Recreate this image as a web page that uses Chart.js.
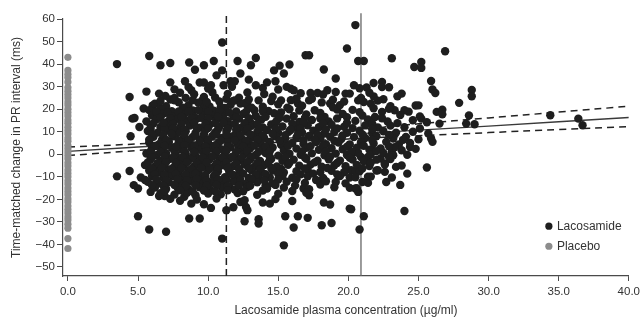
<!DOCTYPE html>
<html>
<head>
<meta charset="utf-8">
<script src="https://cdn.jsdelivr.net/npm/chart.js@4.4.1/dist/chart.umd.min.js"></script>
<style>
  html, body { margin: 0; padding: 0; background: #fff; }
  #wrap { width: 644px; height: 322px; }
</style>
</head>
<body>
<div id="wrap"><canvas id="prChart" width="644" height="322"></canvas></div>
<script>
// tick labels
const xTicks = [0, 5, 10, 15, 20, 25, 30, 35, 40];
const yTicks = [-50, -40, -30, -20, -10, 0, 10, 20, 30, 40, 50, 60];

// placebo: all at 0 ug/ml
const placeboY = [43, 37.2, 35.5, 34, 32, 29.6, 28, 26.5, 25, 23.2, 21.8, 20, 18.5, 17, 15.2, 13.8, 12,
  10.5, 9, 7.2, 5.8, 4, 2.5, 1, -0.5, -2, -3.8, -5.2, -7, -8.5, -10, -11.8, -13.2, -15, -16.5, -18,
  -19.8, -21.2, -23, -24.5, -26, -27.8, -29.2, -31, -32.8, -37.4, -41.8];

// lacosamide: [concentration, change in PR]
const lacosamideOuter = [
  [3.5,40],[5.8,43.6],[6.6,39.5],[7.3,40.5],[8.65,40.7],[9.06,37.5],[9.7,39.5],[10.4,41.4],[11.0,49.6],
  [4.4,25.4],[5.6,27.8],[6.5,26.9],[7.3,31.9],[7.6,28.8],[6.95,25.9],[8.35,32.4],[8.8,28.4],[9.4,31.8],
  [9.7,31.8],[10.2,30.6],[9.7,25.4],[10.6,35],[6.05,21.7],[5.4,20.3],[4.75,16.1],[5.1,12.1],[4.47,8.0],
  [6.7,18.8],[7.6,25.0],[4.6,15.8],
  [3.5,-9.8],[4.4,-7.4],[4.7,-13.7],[5.0,-27.5],[5.8,-33.4],[7.0,-34.4],[8.65,-28.5],[9.4,-28.5],
  [9.7,-22.2],[10.2,-23.8],[11.0,-37.4],[6.5,-18.5],[6.9,-18.5],[5.9,-16.7],[5.0,-15.2],[8.3,-18.9],
  [8.8,-21.9],[9.0,-10.8],
  [16.95,43.9],[17.2,43.9],[19.9,46.9],[12.1,41.4],[13.4,42.7],[13.05,39.5],[15.1,39.3],[15.8,39.8],
  [14.7,37.2],[15.4,35.8],[18.25,37.6],[12.3,35.8],[12.9,33.1],[11.6,32.4],[11.9,32.4],[13.4,30.6],
  [14.2,31.9],[14.8,32.4],[15.0,28.7],[15.9,29.1],[16.1,28.4],[19.1,33.6],[18.5,28.4],[19.1,27.6],
  [17.3,27.2],[17.8,27.2],[19.8,26.9],[13.6,23.9],[14.5,23.6],[15.2,23.9],[12.8,21.7],[13.3,19.5],
  [17.2,23.9],[18.7,22.5],[19.2,19.8],[11.9,23.9],[12.3,22.5],[15.65,20.7],[16.4,22.5],[11.1,30.6],
  [11.0,37.2],
  [15.4,-40.4],[11.3,-24.8],[11.8,-23.5],[12.3,-21.2],[12.7,-23.4],[12.8,-24.8],[12.6,-29.7],
  [13.6,-28.8],[13.6,-30.7],[13.9,-21.4],[14.4,-21.9],[16.0,-20.7],[15.5,-27.5],[16.4,-27.5],
  [17.1,-28.2],[16.1,-32.5],[18.1,-31.5],[18.8,-30.5],[18.25,-21.4],[18.7,-22.3],[17.2,-18.2],
  [16.8,-15.2],[20.1,-24.1],[11.5,-14.5],[14.1,-13.7],[18.0,-13.4],[19.1,-12.3],
  [20.5,57.3],[21.1,41.4],[20.7,41.4],[23.1,42.6],[26.9,45.7],[24.7,38.7],[25.2,40.9],[25.2,38.3],
  [25.9,32.5],[26.0,28.7],[26.2,27.2],[27.9,22.8],[28.8,28.5],[28.8,25.7],[20.4,30.6],[21.8,31.6],
  [22.4,32.1],[22.4,29.8],[21.3,29.6],[20.1,26.9],[21.8,25.7],[22.5,24.4],[23.5,25.7],[23.8,26.9],
  [24.8,21.6],[26.3,18.8],[26.7,19.8],[24.0,19.5],[20.7,23.9],[21.1,23.2],[28.6,17.2],[28.4,13.6],
  [29.0,13.3],[26.5,13.6],[25.7,9.2],[25.9,7.0],[23.3,19.5],[22.4,18.8],[26.7,17.7],[34.4,17.3],
  [36.4,15.8],[36.7,12.9],[26.0,5.5],[25.6,-5.9],[25.2,15.8],[25.0,21.7],
  [24.0,-25.2],[24.2,-8.6],[23.7,-13.6],[23.4,-5.6],[22.7,-12.3],[23.1,-10.3],[22.1,-7.1],[22.3,-1.9],
  [22.6,-4.1],[22.6,-7.8],[21.4,-10.0],[21.4,-12.7],[20.2,-24.4],[21.1,-27.5],[20.8,-33.4],[20.2,-7.1],
  [20.5,-7.5],[20.1,-14.9],[20.5,-15.2],[20.7,-16.7],[20.4,1.0],[20.9,-1.2],[21.4,-1.2],[21.7,1.8],
  [23.1,1.0],[23.2,-0.4],[23.8,1.8],[24.4,3.2],[20.1,-10.3]
];

const lacosamideCore = [
  [7.3,24.3],[8.4,25.0],[9.6,24.1],[10.5,25.2],[11.3,24.6],[12.2,25.1],[16.3,24.8],[18.9,24.2],[20.9,25.0],
  [8.0,27.3],[9.0,26.6],[10.3,27.5],[11.4,26.8],[12.8,27.4],[14.0,26.7],[16.6,27.1],[18.2,26.5],[21.5,27.3],
  [8.6,29.8],[10.0,29.2],[11.7,29.9],[13.9,29.4],[15.6,29.9],[20.8,29.3],[22.9,29.7],
  [6.2,22.4],[7.0,21.3],[7.9,23.1],[8.6,21.8],[9.3,22.9],[10.1,21.2],[10.8,23.4],[11.6,21.9],[12.6,22.6],
  [13.9,21.1],[15.0,22.2],[16.7,21.5],[18.1,23.0],[19.4,21.8],[21.6,22.4],[23.0,21.3],
  [5.8,19.6],[6.6,20.4],[7.4,19.1],[8.2,20.7],[8.9,19.4],[9.7,20.9],[10.4,19.3],[11.2,20.5],[12.0,19.0],
  [13.1,20.6],[14.3,19.2],[15.8,20.0],[17.6,19.5],[18.9,20.8],[20.3,19.7],[22.9,20.2],[24.3,18.9],
  [6.0,17.2],[6.8,18.1],[7.5,16.9],[8.3,17.8],[9.0,16.6],[9.6,18.3],[10.3,17.1],[11.0,18.0],[11.8,16.8],
  [12.5,17.9],[13.4,17.0],[14.7,18.2],[16.1,16.9],[17.0,17.7],[18.3,16.6],[19.6,17.9],[21.0,17.2],
  [21.9,16.5],[23.7,17.4],[25.1,16.8],
  [5.6,14.6],[6.3,15.5],[7.1,14.3],[7.8,15.7],[8.5,14.8],[9.2,15.9],[9.9,14.4],[10.6,15.3],[11.4,14.7],
  [12.2,15.8],[13.0,14.2],[13.8,15.4],[14.9,14.9],[15.6,15.8],[16.5,14.3],[17.4,15.2],[18.6,14.6],
  [19.2,15.9],[20.5,14.8],[21.4,15.4],[22.8,14.5],[24.6,15.1],[25.6,14.2],
  [5.9,12.8],[6.6,12.1],[7.3,13.0],[8.0,11.9],[8.7,12.7],[9.4,11.8],[10.1,13.1],[10.8,12.2],[11.5,12.9],
  [12.3,11.7],[13.1,12.6],[13.9,11.9],[14.5,13.2],[15.3,12.3],[16.2,11.8],[17.1,12.9],[17.9,12.0],
  [18.8,13.1],[19.7,12.2],[20.3,11.6],[21.2,12.8],[22.1,11.9],[23.0,12.7],[24.0,12.0],[25.1,11.4],
  [5.7,10.3],[6.4,9.6],[7.1,10.5],[7.8,9.4],[8.4,10.2],[9.1,9.5],[9.8,10.6],[10.5,9.7],[11.3,10.4],
  [12.0,9.3],[12.7,10.1],[13.5,9.8],[14.2,10.7],[15.0,9.4],[15.8,10.3],[16.7,9.6],[17.5,10.5],[18.3,9.2],
  [19.0,10.0],[19.9,9.5],[20.8,10.4],[21.7,9.3],[22.5,10.2],[23.4,9.6],[24.6,10.0],
  [6.1,7.8],[6.8,7.1],[7.5,8.0],[8.2,6.9],[8.9,7.7],[9.6,7.0],[10.3,8.1],[11.0,7.2],[11.7,7.9],[12.4,6.8],
  [13.2,7.6],[14.0,7.1],[14.8,8.0],[15.5,6.9],[16.3,7.4],[17.2,8.1],[18.0,7.0],[18.7,7.8],[19.5,6.8],
  [20.4,7.6],[21.2,7.2],[22.0,8.0],[23.2,7.0],[24.1,7.7],[25.0,6.6],
  [5.8,5.2],[6.5,4.5],[7.2,5.4],[7.9,4.6],[8.6,5.5],[9.3,4.3],[10.0,5.1],[10.7,4.8],[11.4,5.6],[12.1,4.4],
  [12.9,5.3],[13.7,4.7],[14.4,5.5],[15.2,4.2],[16.0,5.0],[16.8,4.6],[17.7,5.4],[18.4,4.5],[19.3,5.2],
  [20.1,4.4],[20.9,5.3],[21.8,4.8],[22.7,5.5],[23.6,4.3],[24.4,5.0],
  [6.0,2.8],[6.7,2.1],[7.4,3.0],[8.1,2.2],[8.8,2.9],[9.5,1.9],[10.2,2.7],[10.9,2.3],[11.6,3.1],[12.3,2.0],
  [13.0,2.6],[13.9,2.2],[14.6,3.0],[15.4,1.8],[16.3,2.5],[17.0,2.9],[17.9,2.0],[18.8,2.7],[19.6,2.2],
  [20.6,2.9],[21.5,2.0],[22.3,2.6],[23.3,3.1],[24.8,2.4],
  [5.6,0.3],[6.3,-0.4],[7.0,0.5],[7.7,-0.3],[8.4,0.4],[9.1,-0.6],[9.8,0.2],[10.5,-0.2],[11.2,0.6],
  [11.9,-0.5],[12.6,0.1],[13.4,-0.3],[14.1,0.5],[15.0,-0.6],[15.8,0.2],[16.6,-0.2],[17.4,0.4],[18.3,-0.5],
  [19.1,0.3],[19.9,-0.3],[20.7,0.5],[21.6,0.0],[22.5,0.6],[24.2,-0.2],
  [5.9,-2.2],[6.6,-2.9],[7.3,-2.0],[8.0,-2.8],[8.7,-2.1],[9.4,-3.0],[10.1,-2.3],[10.8,-2.7],[11.5,-1.9],
  [12.2,-2.8],[13.0,-2.2],[13.7,-3.0],[14.5,-2.1],[15.3,-2.9],[16.1,-2.4],[17.0,-2.0],[17.8,-2.9],
  [18.6,-2.2],[19.4,-2.8],[20.3,-2.3],[21.1,-3.0],[22.0,-2.4],[23.0,-2.1],
  [5.5,-4.8],[6.2,-5.4],[6.9,-4.6],[7.6,-5.5],[8.3,-4.7],[9.0,-5.3],[9.7,-4.5],[10.4,-5.6],[11.1,-4.9],
  [11.8,-5.2],[12.6,-4.6],[13.3,-5.5],[14.0,-4.8],[14.9,-5.4],[15.7,-4.7],[16.5,-5.1],[17.3,-4.6],
  [18.1,-5.5],[19.0,-4.9],[19.8,-5.3],[20.6,-4.7],[21.5,-5.2],[22.6,-4.6],[23.8,-5.0],
  [5.8,-7.2],[6.5,-8.0],[7.2,-7.1],[7.9,-7.8],[8.6,-7.3],[9.3,-8.1],[10.0,-7.0],[10.7,-7.7],[11.5,-7.4],
  [12.3,-8.0],[13.1,-7.1],[13.8,-7.9],[14.6,-7.2],[15.4,-8.1],[16.3,-7.5],[17.1,-7.0],[18.0,-7.9],
  [18.8,-7.3],[19.7,-8.0],[20.8,-7.6],[22.0,-7.2],
  [5.2,-10.3],[6.0,-9.6],[6.8,-10.5],[7.5,-9.7],[8.2,-10.4],[8.9,-9.5],[9.6,-10.6],[10.4,-9.8],[11.2,-10.2],
  [12.0,-9.4],[12.9,-10.5],[13.6,-9.9],[14.4,-10.3],[15.3,-9.6],[16.0,-10.4],[17.1,-9.8],[18.2,-10.5],
  [19.4,-9.7],[20.5,-10.2],[21.6,-9.9],
  [5.7,-12.2],[6.4,-13.0],[7.2,-12.4],[8.0,-12.9],[8.8,-12.1],[9.5,-13.1],[10.3,-12.3],[11.0,-12.8],
  [11.8,-12.0],[12.7,-13.2],[13.5,-12.4],[14.6,-12.9],[15.6,-12.2],[16.9,-12.7],[18.4,-12.0],[19.8,-12.9],
  [21.0,-12.3],
  [6.2,-14.8],[7.0,-15.4],[7.8,-14.6],[8.6,-15.5],[9.4,-14.7],[10.1,-15.3],[11.0,-14.9],[11.9,-15.6],
  [12.8,-14.5],[14.2,-15.2],[15.4,-14.8],[17.2,-15.5],[19.0,-14.6],[20.6,-15.1],
  [6.6,-17.3],[7.6,-17.9],[8.5,-17.1],[9.1,-18.2],[10.0,-17.4],[10.9,-17.8],[12.1,-17.2],[13.5,-18.0],
  [15.0,-17.5],[17.0,-17.1],
  [7.3,-19.8],[8.0,-20.6],[9.2,-20.1],[10.6,-19.6],[12.6,-20.4],[14.8,-19.9],
  [6.9,11.2],[8.1,13.6],[9.5,16.2],[10.7,11.0],[7.6,1.3],[8.9,-1.1],[10.1,-6.2],[11.4,3.6],[9.7,8.8],
  [7.3,-8.9],[8.6,18.9],[10.9,21.0],[11.3,-11.3],[6.7,6.2],[8.0,-3.7],[9.3,3.4],[12.0,8.5],[10.5,13.8],
  [11.0,16.4]
];

// points that fill the gaps between the rows above
const lacosamideFill = [
  [6.6,23.6],[7.6,23.9],[8.9,24.0],[9.9,23.2],[11.8,23.7],[12.9,24.3],[14.6,25.5],[15.9,24.0],[17.4,24.6],
  [19.7,23.4],[22.1,23.8],
  [6.3,18.9],[7.1,18.4],[7.9,19.0],[9.3,19.6],[10.0,18.9],[10.8,19.3],[11.5,18.5],[12.7,18.8],[13.9,19.1],
  [15.2,18.6],[16.5,19.4],[18.0,18.3],[20.8,18.7],[21.8,20.4],
  [6.6,16.3],[7.3,15.9],[8.1,16.6],[8.8,16.0],[10.0,16.0],[10.7,16.7],[12.0,16.3],[12.9,16.0],[14.1,16.6],
  [15.1,16.2],[16.9,16.1],[18.0,15.9],[19.9,16.4],[22.4,16.0],
  [6.1,13.7],[6.8,14.0],[7.5,13.6],[9.0,13.9],[9.8,13.4],[11.1,13.9],[11.9,13.5],[12.6,13.8],[13.5,13.5],
  [14.8,14.0],[16.0,13.6],[16.8,13.9],[18.2,13.7],[19.9,13.9],[21.7,13.6],[23.5,13.8],
  [5.9,11.2],[7.5,11.4],[8.3,11.0],[9.2,11.3],[10.0,11.6],[11.4,11.3],[12.0,11.0],[12.8,11.4],[13.6,11.1],
  [14.8,11.3],[15.9,11.0],[16.6,11.3],[18.4,11.0],[19.2,11.5],[21.7,11.2],
  [6.0,8.9],[6.8,8.6],[7.4,9.0],[8.3,8.6],[9.1,8.3],[10.6,8.7],[11.3,8.9],[12.3,8.5],[13.0,8.9],[13.9,8.4],
  [14.6,9.0],[15.5,8.5],[16.4,8.9],[17.8,8.7],[19.6,8.4],[21.0,8.8],[22.9,8.6],
  [5.8,6.5],[7.0,6.3],[7.9,6.0],[8.6,6.4],[9.4,5.9],[10.0,6.5],[10.9,6.0],[11.9,6.2],[12.7,6.0],[13.5,6.4],
  [15.1,6.1],[16.8,6.2],[17.6,6.6],[19.0,6.0],[21.7,6.3],[23.9,6.4],
  [6.2,3.7],[6.9,3.8],[7.7,3.5],[8.3,4.0],[9.0,3.8],[9.8,3.5],[10.5,3.9],[12.5,3.6],[13.3,3.9],[14.1,3.4],
  [15.7,3.8],[17.3,3.6],[18.2,3.9],[19.9,3.4],[21.1,3.8],[22.9,3.5],
  [5.9,1.3],[6.6,1.0],[8.3,1.2],[9.0,1.0],[9.9,1.4],[10.6,1.1],[11.3,1.5],[12.0,1.0],[12.8,1.4],[13.6,1.1],
  [14.4,1.3],[16.7,1.2],[18.4,1.3],[20.2,1.0],[22.0,1.4],
  [6.0,-1.3],[6.9,-1.0],[7.5,-1.4],[8.2,-1.2],[9.6,-1.4],[10.3,-1.0],[11.0,-1.5],[11.7,-1.2],[12.4,-1.5],
  [13.1,-1.1],[14.4,-1.3],[15.5,-1.2],[16.9,-1.4],[18.7,-1.1],[20.1,-1.6],[22.9,-1.2],
  [5.7,-3.6],[6.4,-4.0],[7.0,-3.5],[7.7,-3.9],[8.5,-3.5],[9.2,-3.9],[9.9,-3.6],[10.6,-4.1],[11.3,-3.6],
  [12.0,-4.0],[12.8,-3.5],[13.5,-3.9],[14.3,-3.6],[15.8,-3.8],[17.6,-3.6],[19.2,-3.9],[21.6,-3.7],
  [6.0,-6.3],[6.7,-6.0],[7.4,-6.4],[8.1,-6.1],[8.8,-6.5],[9.5,-6.0],[10.7,-6.4],[11.4,-6.1],[12.2,-6.5],
  [12.9,-6.2],[13.7,-6.6],[14.5,-6.1],[15.2,-6.4],[16.9,-6.3],[18.5,-6.1],[21.0,-6.3],
  [6.2,-8.8],[6.9,-9.1],[7.7,-8.7],[8.4,-9.0],[9.1,-8.6],[9.8,-9.2],[10.5,-8.8],[11.7,-8.9],[12.5,-8.6],
  [13.4,-9.1],[14.1,-8.8],[15.0,-8.7],[16.6,-8.9],[17.5,-8.6],[19.2,-8.9],
  [5.5,-11.4],[6.3,-11.2],[7.0,-11.6],[7.8,-11.1],[8.5,-11.5],[9.2,-11.0],[9.9,-11.6],[10.7,-11.1],
  [12.3,-11.4],[13.1,-11.0],[14.0,-11.5],[15.0,-11.2],[16.3,-11.1],[17.7,-11.4],
  [6.0,-13.7],[6.8,-14.0],[7.6,-13.6],[8.4,-14.1],[9.1,-13.7],[9.9,-14.0],[10.6,-13.6],[11.4,-14.1],
  [12.2,-13.8],[13.0,-14.0],[14.8,-13.6],[16.2,-13.9],
  [6.9,-16.3],[8.0,-16.0],[8.9,-16.5],[9.7,-16.1],[10.5,-16.4],[11.4,-16.0],[12.5,-16.4],[13.9,-16.1],
  [16.0,-16.3]
];

// regression fit with 95% CI
const fitX = [0, 5, 10, 15, 20, 25, 30, 35, 40];
const fitMean = [1.3, 3.2, 5.0, 6.9, 8.8, 10.7, 12.5, 14.4, 16.3];
const fitUpper = [3.2, 4.6, 6.2, 8.2, 10.6, 13.5, 16.1, 18.7, 21.3];
const fitLower = [-0.6, 1.7, 3.7, 5.3, 6.8, 8.2, 9.6, 11.0, 12.3];

// vertical reference concentrations
const dashedConc = 11.3;
const solidConc = 20.9;

const FONT = "'Liberation Sans', Arial, Helvetica, sans-serif";
const INK = '#333';
const AXIS = '#4a4a4a';

const toXY = arr => arr.map(p => ({ x: p[0], y: p[1] }));
const curve = ys => fitX.map((x, i) => ({ x: x, y: ys[i] }));

const legendPlugin = {
    id: 'insideLegend',
    afterDatasetsDraw(chart) {
        const { ctx, scales } = chart;
        const items = [
            { label: 'Lacosamide', color: '#1e1e1e', y: -31.9 },
            { label: 'Placebo', color: '#8c8c8c', y: -40.8 }
        ];
        ctx.save();
        ctx.font = '12px ' + FONT;
        ctx.textBaseline = 'middle';
        items.forEach(it => {
            const px = scales.x.getPixelForValue(34.3);
            const py = scales.y.getPixelForValue(it.y);
            ctx.fillStyle = it.color;
            ctx.beginPath();
            ctx.arc(px, py, 3.6, 0, Math.PI * 2);
            ctx.fill();
            ctx.fillStyle = INK;
            ctx.fillText(it.label, px + 8, py + 0.5);
        });
        ctx.restore();
    }
};

new Chart(document.getElementById('prChart'), {
    type: 'scatter',
    data: {
        datasets: [
            {
                label: 'Lacosamide',
                data: toXY(lacosamideOuter.concat(lacosamideCore, lacosamideFill)),
                backgroundColor: '#1e1e1e',
                borderWidth: 0,
                pointRadius: 4.2,
                order: 1
            },
            {
                label: 'Placebo',
                data: placeboY.map(v => ({ x: 0, y: v })),
                backgroundColor: '#8c8c8c',
                borderWidth: 0,
                pointRadius: 3.6,
                order: 2
            },
            {
                label: 'fit',
                data: curve(fitMean),
                showLine: true,
                borderColor: '#3a3a3a',
                borderWidth: 1.4,
                pointRadius: 0,
                order: 3
            },
            {
                label: 'upper',
                data: curve(fitUpper),
                showLine: true,
                tension: 0.4,
                borderColor: '#222',
                borderWidth: 1.5,
                borderDash: [7, 5],
                pointRadius: 0,
                order: 3
            },
            {
                label: 'lower',
                data: curve(fitLower),
                showLine: true,
                tension: 0.4,
                borderColor: '#222',
                borderWidth: 1.5,
                borderDash: [7, 5],
                pointRadius: 0,
                order: 3
            },
            {
                label: 'dashed ref',
                data: [{ x: dashedConc, y: -54 }, { x: dashedConc, y: 62.6 }],
                showLine: true,
                borderColor: '#222',
                borderWidth: 1.5,
                borderDash: [7, 4],
                pointRadius: 0,
                clip: false,
                order: 4
            },
            {
                label: 'solid ref',
                data: [{ x: solidConc, y: -54 }, { x: solidConc, y: 62.6 }],
                showLine: true,
                borderColor: '#666',
                borderWidth: 1.3,
                pointRadius: 0,
                clip: false,
                order: 4
            }
        ]
    },
    options: {
        responsive: false,
        animation: false,
        devicePixelRatio: 1,
        layout: { padding: { top: 19, right: 12, left: 0, bottom: 0 } },
        plugins: {
            legend: { display: false },
            tooltip: { enabled: false }
        },
        scales: {
            x: {
                type: 'linear',
                min: -0.35,
                max: 40,
                afterBuildTicks: s => { s.ticks = xTicks.map(v => ({ value: v })); },
                afterFit: s => { s.height = 46; },
                grid: { drawOnChartArea: false, drawTicks: true, tickLength: 5, color: AXIS },
                border: { color: AXIS, width: 1.2 },
                ticks: {
                    color: INK,
                    font: { family: FONT, size: 11.5 },
                    padding: 4,
                    maxRotation: 0,
                    callback: v => v.toFixed(1)
                },
                title: {
                    display: true,
                    text: 'Lacosamide plasma concentration (µg/ml)',
                    color: INK,
                    font: { family: FONT, size: 12 },
                    padding: { top: 0, bottom: 4 }
                }
            },
            y: {
                type: 'linear',
                min: -54,
                max: 60,
                afterBuildTicks: s => { s.ticks = yTicks.map(v => ({ value: v })); },
                afterFit: s => { s.width = 63; },
                grid: { drawOnChartArea: false, drawTicks: true, tickLength: 6, color: AXIS },
                border: { color: AXIS, width: 1.2 },
                ticks: {
                    color: INK,
                    font: { family: FONT, size: 11.5 },
                    padding: 2,
                    callback: v => (v < 0 ? '\u2212' + Math.abs(v) : String(v))
                },
                title: {
                    display: true,
                    text: 'Time-matched change in PR interval (ms)',
                    color: INK,
                    font: { family: FONT, size: 12 },
                    padding: { top: 9, bottom: 0 }
                }
            }
        }
    },
    plugins: [legendPlugin]
});
</script>
</body>
</html>
